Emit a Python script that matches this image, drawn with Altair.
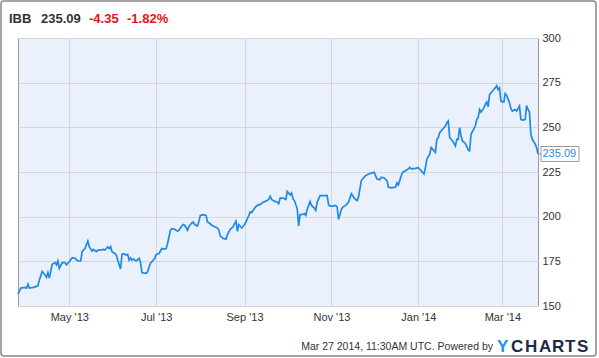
import altair as alt
import pandas as pd

dates = [
"2013-03-26","2013-03-28","2013-03-31","2013-04-01","2013-04-02","2013-04-03","2013-04-06","2013-04-09","2013-04-10","2013-04-12",
"2013-04-14","2013-04-15","2013-04-16","2013-04-17","2013-04-19","2013-04-21","2013-04-22","2013-04-23","2013-04-24","2013-04-26",
"2013-04-28","2013-04-29","2013-05-01","2013-05-03","2013-05-05","2013-05-07","2013-05-09","2013-05-10","2013-05-12","2013-05-14",
"2013-05-15","2013-05-17","2013-05-18","2013-05-20","2013-05-21","2013-05-23","2013-05-25","2013-05-26","2013-05-28","2013-05-29",
"2013-05-30","2013-05-31","2013-06-02","2013-06-03","2013-06-04","2013-06-06","2013-06-07","2013-06-08","2013-06-10","2013-06-11",
"2013-06-12","2013-06-13","2013-06-14","2013-06-15","2013-06-17","2013-06-19","2013-06-20","2013-06-21","2013-06-22","2013-06-24",
"2013-06-25","2013-06-27","2013-06-28","2013-06-30","2013-07-01","2013-07-03","2013-07-05","2013-07-06","2013-07-08","2013-07-09",
"2013-07-11","2013-07-12","2013-07-14","2013-07-16","2013-07-17","2013-07-19","2013-07-20","2013-07-21","2013-07-23","2013-07-24",
"2013-07-26","2013-07-27","2013-07-28","2013-07-30","2013-07-31","2013-08-01","2013-08-03","2013-08-05","2013-08-06","2013-08-08",
"2013-08-09","2013-08-11","2013-08-13","2013-08-14","2013-08-15","2013-08-17","2013-08-19","2013-08-20","2013-08-22","2013-08-24",
"2013-08-25","2013-08-26","2013-08-27","2013-08-28","2013-08-30","2013-09-01","2013-09-02","2013-09-04","2013-09-05","2013-09-06",
"2013-09-07","2013-09-09","2013-09-11","2013-09-12","2013-09-14","2013-09-16","2013-09-18","2013-09-19","2013-09-20","2013-09-22",
"2013-09-24","2013-09-25","2013-09-26","2013-09-28","2013-09-30","2013-10-01","2013-10-03","2013-10-04","2013-10-05","2013-10-06",
"2013-10-08","2013-10-09","2013-10-10","2013-10-11","2013-10-13","2013-10-14","2013-10-15","2013-10-17","2013-10-18","2013-10-20",
"2013-10-21","2013-10-22","2013-10-23","2013-10-24","2013-10-26","2013-10-29","2013-10-30","2013-10-31","2013-11-02","2013-11-04",
"2013-11-05","2013-11-06","2013-11-08","2013-11-09","2013-11-11","2013-11-13","2013-11-14","2013-11-15","2013-11-17","2013-11-19",
"2013-11-20","2013-11-21","2013-11-22","2013-11-24","2013-11-25","2013-11-27","2013-11-29","2013-12-01","2013-12-03","2013-12-05",
"2013-12-06","2013-12-08","2013-12-10","2013-12-11","2013-12-13","2013-12-16","2013-12-17","2013-12-18","2013-12-20","2013-12-21",
"2013-12-23","2013-12-25","2013-12-26","2013-12-27","2013-12-30","2014-01-01","2014-01-03","2014-01-05","2014-01-06","2014-01-07",
"2014-01-09","2014-01-10","2014-01-11","2014-01-13","2014-01-14","2014-01-15","2014-01-16","2014-01-18","2014-01-20","2014-01-21",
"2014-01-22","2014-01-23","2014-01-25","2014-01-27","2014-01-28","2014-01-29","2014-01-30","2014-01-31","2014-02-01","2014-02-03",
"2014-02-05","2014-02-06","2014-02-07","2014-02-10","2014-02-11","2014-02-12","2014-02-13","2014-02-14","2014-02-16","2014-02-17",
"2014-02-18","2014-02-19","2014-02-20","2014-02-22","2014-02-24","2014-02-25","2014-02-26","2014-02-27","2014-02-28","2014-03-02",
"2014-03-03","2014-03-04","2014-03-06","2014-03-07","2014-03-08","2014-03-10","2014-03-11","2014-03-13","2014-03-14","2014-03-15",
"2014-03-17","2014-03-18","2014-03-19","2014-03-20","2014-03-21","2014-03-22","2014-03-24","2014-03-25","2014-03-26",
]

prices = [
156.7,160.0,160.4,160.0,162.2,160.0,160.4,161.3,164.6,169.3,
167.4,166.0,168.7,165.6,173.3,174.3,173.0,175.2,171.1,174.3,
174.3,173.0,174.8,177.0,176.7,175.2,175.2,180.4,182.2,186.3,
183.2,180.7,181.7,180.4,181.3,181.3,181.7,181.3,183.0,182.2,
183.2,180.4,179.4,178.5,175.7,170.7,178.9,179.3,178.5,178.9,
175.7,177.0,175.7,176.3,175.2,176.7,174.4,168.7,168.5,168.3,
169.3,173.9,174.8,176.7,178.9,179.4,182.2,181.8,182.2,185.0,
192.4,193.3,192.9,191.8,192.4,194.8,195.6,195.2,192.4,194.6,
196.5,197.0,195.6,194.8,197.4,200.7,201.1,200.7,197.0,196.1,
195.2,194.3,193.7,192.4,189.1,187.8,187.4,190.0,192.9,194.3,
196.1,197.4,191.8,195.6,193.7,195.6,197.0,200.7,202.6,202.2,
203.5,205.7,206.7,206.7,208.1,208.7,209.6,211.5,209.6,208.7,
208.1,207.2,210.4,210.4,209.6,214.1,212.2,213.3,210.0,209.0,
204.4,194.8,201.1,201.1,201.7,200.7,204.1,208.5,206.3,204.8,
203.5,208.1,210.0,211.8,211.8,211.8,206.7,205.9,205.9,206.3,
205.4,198.5,204.1,205.4,206.3,208.1,210.4,212.8,210.4,209.0,
210.9,215.6,220.2,222.1,222.9,223.9,224.4,224.8,221.1,220.7,
222.1,221.7,220.2,216.5,216.1,216.5,218.9,217.8,222.9,224.8,
225.7,226.7,227.6,226.7,227.0,227.4,225.7,223.9,227.6,232.2,
235.0,238.7,237.8,235.9,243.3,244.3,247.0,248.9,250.7,252.6,
253.5,244.3,242.4,239.6,243.3,243.3,249.8,245.2,242.4,241.0,
237.4,236.9,246.1,250.7,254.4,255.4,260.0,258.5,260.9,262.8,
264.1,261.5,268.3,270.2,272.1,273.3,271.1,272.1,264.6,264.1,
268.9,267.8,263.7,260.4,259.1,260.0,259.1,261.9,254.4,254.1,
254.4,262.2,260.0,258.5,246.1,243.3,240.6,238.7,235.09,
]

header_texts = ["IBB", "235.09", "-4.35", "-1.82%"]
header_x = [9, 41, 89, 127]
header_colors = ["#333333", "#333333", "#ee1111", "#ee1111"]

y_ticks = [150, 175, 200, 225, 250, 275, 300]
last_label = "235.09"
last_value = 235.09
footer_text = "Mar 27 2014, 11:30AM UTC. Powered by"
logo_letters = ["Y", "C", "H", "A", "R", "T", "S"]
logo_x = [497, 511, 525, 539, 552, 565, 577]
logo_colors = ["#1e90f0"] + ["#1b2a47"] * 6

LEFT, TOP = 18, 38
W, H = 520, 268

df = pd.DataFrame({"date": pd.to_datetime(dates), "price": prices})

x_scale = alt.Scale(domain=[alt.DateTime(year=2013, month=3, date=26),
                            alt.DateTime(year=2014, month=3, date=26)])
y_scale = alt.Scale(domain=[150, 300], nice=False, zero=False)

x_ticks = [alt.DateTime(year=2013, month=m, date=1) for m in [5, 7, 9, 11]] + \
          [alt.DateTime(year=2014, month=m, date=1) for m in [1, 3]]

line = alt.Chart(df).mark_line(color="#1f8ae6", strokeWidth=1.7).encode(
    x=alt.X("date:T", scale=x_scale, title=None,
            axis=alt.Axis(values=x_ticks, format="%b '%y", grid=True, gridColor="#d6d6d6",
                          ticks=False, domain=False, labelFontSize=11, labelColor="#333333",
                          labelPadding=5, labelFont="Liberation Sans")),
    y=alt.Y("price:Q", scale=y_scale, title=None,
            axis=alt.Axis(orient="right", values=y_ticks, grid=True, gridColor="#d6d6d6",
                          ticks=False, domain=False, labelFontSize=11, labelColor="#333333",
                          labelPadding=4, labelFont="Liberation Sans")),
)

one = pd.DataFrame({"k": [0]})

layers = [line]

# header
for t, hx, c in zip(header_texts, header_x, header_colors):
    layers.append(alt.Chart(one).mark_text(
        text=t, align="left", baseline="alphabetic", fontSize=13, fontWeight="bold",
        font="Liberation Sans", color=c).encode(x=alt.value(hx - LEFT), y=alt.value(23 - TOP)))

# last-price callout
lab = pd.DataFrame({"v": [last_value], "t": [last_label]})
arrow = alt.Chart(lab).mark_point(shape="triangle-left", filled=True, fill="white",
                                  stroke="#999999", strokeWidth=1, size=60, opacity=1).encode(
    x=alt.value(543 - LEFT), y=alt.Y("v:Q", scale=y_scale))
box = alt.Chart(lab).mark_rect(fill="white", stroke="#999999", strokeWidth=1,
                               yOffset=-7.5, y2Offset=7.5).encode(
    x=alt.value(541 - LEFT), x2=alt.value(579 - LEFT),
    y=alt.Y("v:Q", scale=y_scale), y2=alt.Y2("v"))
ltxt = alt.Chart(lab).mark_text(align="left", baseline="middle", fontSize=11,
                                font="Liberation Sans", color="#1f8ae6").encode(
    x=alt.value(542.5 - LEFT), y=alt.Y("v:Q", scale=y_scale), text="t:N")
layers += [arrow, box, ltxt]

# footer
layers.append(alt.Chart(one).mark_text(
    text=footer_text, align="right", baseline="middle", fontSize=10.5,
    font="Liberation Sans", color="#333333").encode(x=alt.value(493 - LEFT), y=alt.value(347 - TOP)))
for t, lx, c in zip(logo_letters, logo_x, logo_colors):
    layers.append(alt.Chart(one).mark_text(
        text=t, align="left", baseline="middle", fontSize=17, fontWeight="bold",
        font="Liberation Sans", color=c).encode(x=alt.value(lx - LEFT), y=alt.value(347 - TOP)))

# outer frame
layers.append(alt.Chart(one).mark_rect(fill=None, stroke="#888888", strokeWidth=1.5, cornerRadius=3).encode(
    x=alt.value(1 - LEFT), x2=alt.value(596 - LEFT), y=alt.value(1 - TOP), y2=alt.value(356 - TOP)))

chart = alt.layer(*layers).properties(
    width=W, height=H,
    autosize=alt.AutoSizeParams(type="none"),
    padding={"left": LEFT, "top": TOP, "right": 599 - LEFT - W, "bottom": 358 - TOP - H},
    background="white",
).configure_view(fill="#eaf1fc", stroke="#9a9a9a", strokeWidth=1)

chart.save("out.html", embed_options={"renderer": "svg", "actions": False})
